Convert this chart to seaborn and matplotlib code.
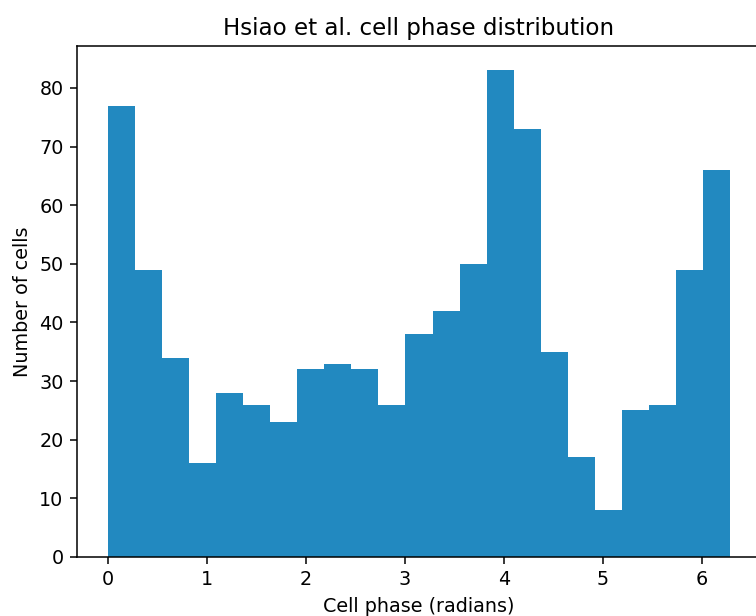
import numpy as np
import pandas as pd
import matplotlib
matplotlib.use("Agg")
import matplotlib.pyplot as plt
import seaborn as sns

# Cell counts per phase bin (23 equal bins over [0, 2*pi])
counts = [77, 49, 34, 16, 28, 26, 23, 32, 33, 32, 26, 38,
          42, 50, 83, 73, 35, 17, 8, 25, 26, 49, 66]
n_bins = len(counts)
edges = np.linspace(0, 2 * np.pi, n_bins + 1)
centers = (edges[:-1] + edges[1:]) / 2

df = pd.DataFrame({"phase": centers, "cells": counts})

s = 1.38  # overall scale of fonts and line weights
sns.set_style("ticks")
plt.rcParams.update({
    "font.family": ["DejaVu Sans"],
    "text.color": "black",
    "axes.labelcolor": "black",
    "axes.edgecolor": "black",
    "xtick.color": "black",
    "ytick.color": "black",
    "axes.linewidth": 0.8 * s,
    "xtick.major.width": 0.8 * s,
    "ytick.major.width": 0.8 * s,
    "xtick.major.size": 3.5 * s,
    "ytick.major.size": 3.5 * s,
    "xtick.major.pad": 3.5 * s,
    "ytick.major.pad": 3.5 * s,
    "xtick.labelsize": 10 * s,
    "ytick.labelsize": 10 * s,
    "axes.labelsize": 10 * s,
    "axes.titlesize": 12 * s,
    "axes.labelpad": 4 * s,
    "axes.titlepad": 6 * s,
})

fig = plt.figure(figsize=(7.56, 6.16), dpi=100)
ax = fig.add_axes([77 / 756, 1 - 557 / 616, 684 / 756, (557 - 46) / 616])

sns.histplot(data=df, x="phase", weights="cells", bins=n_bins,
             binrange=(0, 2 * np.pi), color="#2289c0", alpha=1,
             linewidth=0, ax=ax)

ax.set_xlim(-0.1 * np.pi, 2.1 * np.pi)
ax.set_ylim(0, max(counts) * 1.05)
ax.set_xticks([0, 1, 2, 3, 4, 5, 6])
ax.set_yticks(range(0, 90, 10))
ax.set_title("Hsiao et al. cell phase distribution")
ax.set_xlabel("Cell phase (radians)")
ax.set_ylabel("Number of cells")

fig.savefig("out.png", dpi=100)
